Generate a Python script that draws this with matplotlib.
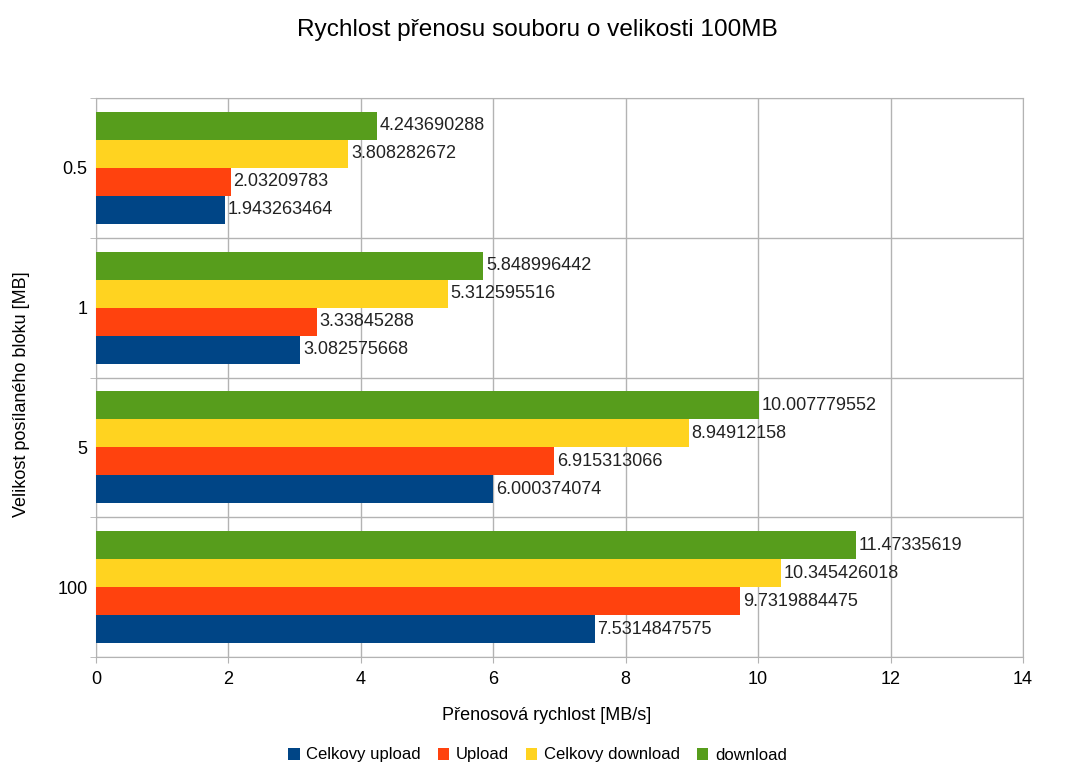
import numpy as np
import matplotlib
matplotlib.use("Agg")
import matplotlib.pyplot as plt

plt.rcParams['font.family'] = ['Liberation Sans', 'DejaVu Sans']

# data
categories = ['0.5', '1', '5', '100']
celkovy_upload = [1.943263464, 3.082575668, 6.000374074, 7.5314847575]
upload = [2.03209783, 3.33845288, 6.915313066, 9.7319884475]
celkovy_download = [3.808282672, 5.312595516, 8.94912158, 10.345426018]
download = [4.243690288, 5.848996442, 10.007779552, 11.47335619]

series = [
    ('Celkovy upload', celkovy_upload, '#004586'),
    ('Upload', upload, '#ff420e'),
    ('Celkovy download', celkovy_download, '#ffd320'),
    ('download', download, '#579d1c'),
]

W, H = 1075, 776
fig = plt.figure(figsize=(W/100, H/100), dpi=100)
ax = fig.add_axes([96/W, 1-657/H, (1023-96)/W, (657-98)/H])

y = np.arange(len(categories))
h = 0.2
offsets = [0.3, 0.1, -0.1, -0.3]
for (name, vals, col), off in zip(series, offsets):
    bars = ax.barh(y + off, vals, height=h, color=col, label=name, zorder=3)
    ax.bar_label(bars, labels=[repr(v) for v in vals], padding=2, fontsize=13, color='#222222')

ax.set_xlim(0, 14)
ax.set_ylim(3.5, -0.5)
ax.set_xticks(np.arange(0, 15, 2))
ax.set_yticks(y)
ax.set_yticklabels(categories)
ax.set_yticks(np.arange(-0.5, 4, 1), minor=True)
ax.tick_params(axis='y', which='major', length=0, pad=6, labelsize=13)
ax.tick_params(axis='y', which='minor', length=4, color='#b3b3b3')
ax.tick_params(axis='x', length=4, color='#b3b3b3', labelsize=13, pad=6)
ax.grid(True, axis='x', which='major', color='#b3b3b3', lw=1, zorder=0)
ax.grid(True, axis='y', which='minor', color='#b3b3b3', lw=1, zorder=0)
for s in ax.spines.values():
    s.set_color('#b3b3b3')

fig.text(547/W, 1-716/H, 'Přenosová rychlost [MB/s]', fontsize=13, ha='center', va='center')
fig.text(22/W, 1-394/H, 'Velikost posílaného bloku [MB]', fontsize=13, ha='center', va='center',
         rotation=90)
fig.text(537/W, 1-30/H, 'Rychlost přenosu souboru o velikosti 100MB', fontsize=17.6,
         ha='center', va='center')

fig.legend(loc='center', ncol=4, frameon=False, fontsize=12,
           handlelength=0.7, handleheight=0.7, handletextpad=0.4,
           columnspacing=1.0, bbox_to_anchor=(0.5, 1-755/H))

fig.savefig('out.png', dpi=100)
